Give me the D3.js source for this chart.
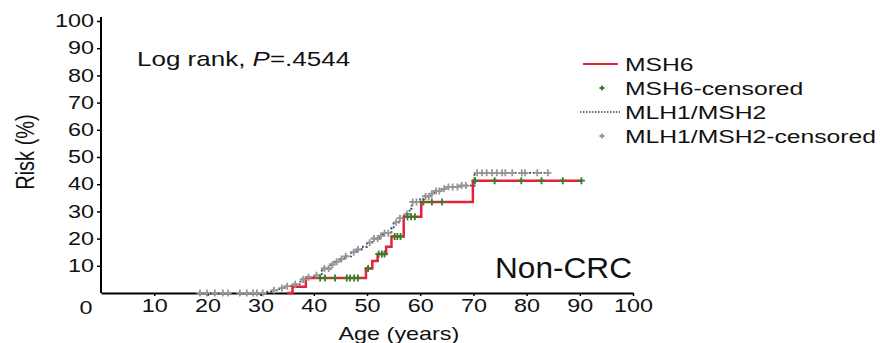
<!DOCTYPE html>
<html>
<head>
<meta charset="utf-8">
<script src="https://cdn.jsdelivr.net/npm/d3@7"></script>
<style>
  body { margin: 0; background: #fff; }
  text { font-family: "Liberation Sans", Arial, sans-serif; fill: #111; }
</style>
</head>
<body>
<div id="wrapper"></div>
<script>
// Kaplan-Meier style step curves, [age, risk %]
const msh6Steps = [
  [35, 0], [36, 2.3], [38.5, 5.5], [49.8, 9], [51, 11.8], [52, 14.3],
  [53.6, 17], [54.6, 20.8], [56.9, 28], [60.2, 33.5], [69.9, 41.3], [90.5, 41.3]
]
const msh6Censored = [
  [41.2, 5.5], [42.1, 5.5], [44, 5.5], [46.2, 5.5], [46.8, 5.5], [47.6, 5.5], [48.3, 5.5],
  [50.2, 9], [52.2, 14.3], [52.8, 14.3], [53.3, 14.3],
  [55.2, 20.8], [55.7, 20.8], [56.3, 20.8],
  [57.6, 28], [58.3, 28], [59, 28],
  [60.6, 33.5], [62.2, 33.5], [64.1, 33.5],
  [70.3, 41.3], [74, 41.3], [79, 41.3], [82.8, 41.3], [86.8, 41.3], [90.3, 41.3]
]
const mlhSteps = [
  [30, 0], [31, 0.5], [32, 1], [33.5, 1.8], [34.5, 2.5], [36, 3.2], [37.5, 5],
  [38.7, 5.8], [40, 6.5], [41.5, 9], [43.2, 10.5], [44, 11.5], [45, 12.5],
  [45.8, 13.5], [47, 15], [48, 16], [49, 17], [50, 18.5], [51, 20], [52.3, 21],
  [53, 22], [54.6, 24], [55, 26], [56, 27.5], [57, 29], [58, 31], [58.4, 33.5],
  [60, 34.5], [60.7, 35.5], [62, 36.5], [62.7, 37.5], [64, 38.3], [65, 39],
  [67.5, 39.5], [70.2, 44.2], [84.5, 44.2]
]
const mlhCensored = [
  [18.6, 0], [19.9, 0], [21.4, 0], [22.9, 0], [23.9, 0], [26.1, 0], [27.4, 0],
  [28.6, 0], [29.3, 0], [30.4, 0],
  [32.5, 1], [34, 1.8], [35, 2.5], [36.5, 3.2], [38, 5], [39, 5.8], [40.5, 6.5],
  [42, 9], [42.8, 9], [43.5, 10.5], [44.3, 11.5], [45.2, 12.5], [46, 13.5],
  [47.5, 15], [48.3, 16], [50.5, 18.5], [51.3, 20], [52, 20], [52.6, 21],
  [53.3, 22], [54, 22], [55.5, 26], [56.2, 27.5], [57.5, 29], [58.6, 33.5],
  [59.3, 33.5], [61, 35.5], [61.6, 35.5], [62.2, 36.5], [63, 37.5], [63.6, 37.5],
  [64.5, 38.3], [65.3, 39], [66.1, 39], [67, 39], [67.8, 39.5], [68.6, 39.5],
  [70.7, 44.2], [71.6, 44.2], [72.5, 44.2], [73.5, 44.2], [74.4, 44.2], [75.4, 44.2],
  [76, 44.2], [77.3, 44.2], [79.1, 44.2], [79.7, 44.2], [82, 44.2], [84, 44.2]
]
const xTicks = [10, 20, 30, 40, 50, 60, 70, 80, 90, 100]
const yTicks = [10, 20, 30, 40, 50, 60, 70, 80, 90, 100]
const legendLabels = ["MSH6", "MSH6-censored", "MLH1/MSH2", "MLH1/MSH2-censored"]

const colors = {
  msh6: "#e3233c",
  msh6Mark: "#3d7a2c",
  mlh: "#2e3a68",
  mlhMark: "#969696",
}

// 1. Dimensions
let dimensions = {
  width: 888,
  height: 343,
  margin: { top: 21, right: 255, bottom: 50, left: 101 },
}
dimensions.boundedWidth = dimensions.width - dimensions.margin.left - dimensions.margin.right
dimensions.boundedHeight = dimensions.height - dimensions.margin.top - dimensions.margin.bottom

// the figure is a bit wide, text glyphs are stretched sideways
function stretch(sel, sx) {
  sel.each(function () {
    const t = d3.select(this)
    const x = +t.attr("x") || 0
    const y = +t.attr("y") || 0
    t.attr("x", 0).attr("y", 0)
      .attr("transform", `translate(${x},${y}) scale(${sx},1)`)
  })
}

// 2. Canvas
const wrapper = d3.select("#wrapper")
  .append("svg")
    .attr("width", dimensions.width)
    .attr("height", dimensions.height)

const bounds = wrapper.append("g")
    .attr("transform", `translate(${dimensions.margin.left},${dimensions.margin.top})`)

// 3. Scales
const xScale = d3.scaleLinear()
  .domain([0, 100])
  .range([0, dimensions.boundedWidth])

const yScale = d3.scaleLinear()
  .domain([0, 100])
  .range([dimensions.boundedHeight, 0])

// 4. Axes
const yAxis = bounds.append("g")
  .call(d3.axisLeft(yScale).tickValues(yTicks).tickSize(4).tickPadding(3).tickSizeOuter(0))
yAxis.select(".domain").attr("stroke-width", 2).attr("d", `M0,${dimensions.boundedHeight}V-4`)
yAxis.selectAll(".tick line").attr("stroke-width", 1.5)
yAxis.selectAll("text")
  .style("font-size", "18px")
  .style("font-family", "Liberation Sans, Arial, sans-serif")
  .attr("fill", "#111")
  .call(stretch, 1.3)

const xAxis = bounds.append("g")
  .attr("transform", `translate(0,${dimensions.boundedHeight})`)
  .call(d3.axisBottom(xScale).tickValues(xTicks).tickSize(3).tickPadding(3).tickSizeOuter(0))
xAxis.select(".domain").attr("stroke-width", 2)
xAxis.selectAll(".tick line").attr("stroke-width", 1.5)
xAxis.selectAll("text")
  .style("font-size", "18px")
  .style("font-family", "Liberation Sans, Arial, sans-serif")
  .attr("fill", "#111")
  .call(stretch, 1.3)

// shared origin label
bounds.append("text")
  .attr("x", xScale(0) - 15)
  .attr("y", dimensions.boundedHeight + 21)
  .attr("text-anchor", "middle")
  .style("font-size", "18px")
  .text("0")
  .call(stretch, 1.3)

bounds.append("text")
  .attr("x", xScale(56))
  .attr("y", dimensions.boundedHeight + 47)
  .attr("text-anchor", "middle")
  .style("font-size", "18px")
  .text("Age (years)")
  .call(stretch, 1.3)

wrapper.append("text")
  .attr("transform", `translate(34,152) rotate(-90) scale(1,1.3)`)
  .attr("text-anchor", "middle")
  .style("font-size", "20px")
  .text("Risk (%)")

// 5. Curves
const stepLine = d3.line()
  .x(d => xScale(d[0]))
  .y(d => yScale(d[1]))
  .curve(d3.curveStepAfter)

bounds.append("path")
  .datum(mlhSteps)
  .attr("d", stepLine)
  .attr("fill", "none")
  .attr("stroke", colors.mlh)
  .attr("stroke-width", 1.8)
  .attr("stroke-dasharray", "1.8,1.8")

bounds.append("path")
  .datum(msh6Steps)
  .attr("d", stepLine)
  .attr("fill", "none")
  .attr("stroke", colors.msh6)
  .attr("stroke-width", 2.5)

const plus = "M-3.5,0H3.5M0,-3.5V3.5"

bounds.selectAll(".mlh-mark")
  .data(mlhCensored)
  .enter().append("path")
    .attr("class", "mlh-mark")
    .attr("transform", d => `translate(${xScale(d[0])},${yScale(d[1])})`)
    .attr("d", plus)
    .attr("stroke", colors.mlhMark)
    .attr("stroke-width", 1.8)

bounds.selectAll(".msh6-mark")
  .data(msh6Censored)
  .enter().append("path")
    .attr("class", "msh6-mark")
    .attr("transform", d => `translate(${xScale(d[0])},${yScale(d[1])})`)
    .attr("d", plus)
    .attr("stroke", colors.msh6Mark)
    .attr("stroke-width", 1.8)

// 6. Annotations
const logRank = wrapper.append("text")
  .attr("x", 137)
  .attr("y", 66)
  .style("font-size", "20px")
logRank.append("tspan").text("Log rank, ")
logRank.append("tspan").style("font-style", "italic").text("P")
logRank.append("tspan").text("=.4544")
logRank.call(stretch, 1.3)

wrapper.append("text")
  .attr("x", 495)
  .attr("y", 278)
  .style("font-size", "29px")
  .text("Non-CRC")
  .call(stretch, 1.09)

// 7. Legend
const legend = wrapper.append("g")
  .attr("transform", "translate(580,64)")

const rows = legend.selectAll("g")
  .data(legendLabels)
  .enter().append("g")
    .attr("transform", (d, i) => `translate(0,${i * 24})`)

rows.append("text")
  .attr("x", 45)
  .attr("y", 7)
  .style("font-size", "19px")
  .text(d => d)
  .call(stretch, 1.3)

rows.filter((d, i) => i === 0).append("line")
  .attr("x1", 3).attr("x2", 38)
  .attr("stroke", colors.msh6).attr("stroke-width", 2)
rows.filter((d, i) => i === 2).append("line")
  .attr("x1", 0).attr("x2", 40)
  .attr("stroke", colors.mlh).attr("stroke-width", 1.5)
  .attr("stroke-dasharray", "1.5,1.5")
rows.filter((d, i) => i === 1).append("path")
  .attr("transform", "translate(22,0)")
  .attr("d", "M-2.5,0H2.5M0,-2.5V2.5")
  .attr("stroke", colors.msh6Mark).attr("stroke-width", 1.8)
rows.filter((d, i) => i === 3).append("path")
  .attr("transform", "translate(22,0)")
  .attr("d", "M-2.5,0H2.5M0,-2.5V2.5")
  .attr("stroke", colors.mlhMark).attr("stroke-width", 1.8)
</script>
</body>
</html>
